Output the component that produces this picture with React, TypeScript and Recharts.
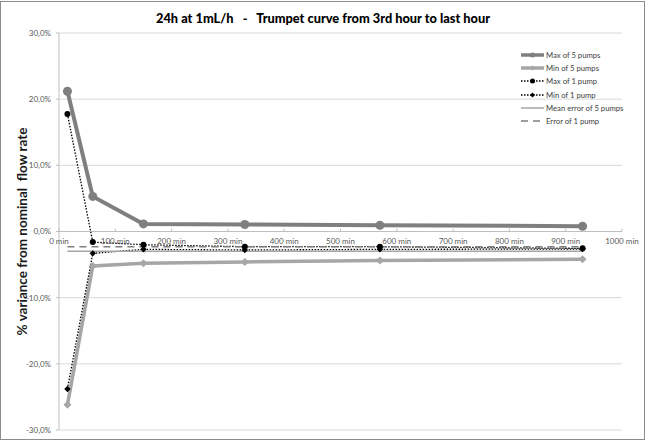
import { CartesianGrid, Legend, Line, LineChart, ReferenceDot, ReferenceLine, XAxis, YAxis } from 'recharts'

// minutes after the 3rd hour where each trumpet window was measured
const minutes = [15, 60, 150, 330, 570, 930]
const maxOf5Pumps = [21.2, 5.3, 1.15, 1.05, 0.95, 0.8]
const minOf5Pumps = [-26.2, -5.2, -4.8, -4.6, -4.4, -4.2]
const maxOf1Pump = [17.75, -1.6, -2.0, -2.3, -2.3, -2.55]
const minOf1Pump = [-23.8, -3.3, -2.7, -2.8, -2.7, -2.65]

const errorMinutes = [15, 930]
const meanErrorOf5Pumps = [-3.0, -3.0]
const errorOf1Pump = [-2.3, -2.3]

const yTicks = [-30, -20, -10, 0, 10, 20, 30]
const xTicks = [0, 100, 200, 300, 400, 500, 600, 700, 800, 900, 1000]

const DARK = '#7f7f7f'
const LIGHT = '#a6a6a6'
const FONT = 'Lato, "Liberation Sans", sans-serif'

const toPoints = (xs: number[], ys: number[]) => xs.map((x, i) => ({ x, y: ys[i] }))

const series = [
    { name: 'Max of 5 pumps', data: toPoints(minutes, maxOf5Pumps), color: DARK, width: 4, dash: undefined, marker: 'circle', size: 4.5 },
    { name: 'Min of 5 pumps', data: toPoints(minutes, minOf5Pumps), color: LIGHT, width: 3.5, dash: undefined, marker: 'diamond', size: 4 },
    { name: 'Max of 1 pump', data: toPoints(minutes, maxOf1Pump), color: '#000', width: 1.3, dash: '1.5 1.5', marker: 'circle', size: 3 },
    { name: 'Min of 1 pump', data: toPoints(minutes, minOf1Pump), color: '#000', width: 1.3, dash: '1.5 1.5', marker: 'diamond', size: 3.2 },
    { name: 'Mean error of 5 pumps', data: toPoints(errorMinutes, meanErrorOf5Pumps), color: LIGHT, width: 1.5, dash: undefined, marker: 'none', size: 0 },
    { name: 'Error of 1 pump', data: toPoints(errorMinutes, errorOf1Pump), color: DARK, width: 1.5, dash: '7 5', marker: 'none', size: 0 },
]

function Marker({ kind, cx, cy, size, color }: { kind: string; cx: number; cy: number; size: number; color: string }) {
    if (kind === 'circle') return <circle cx={cx} cy={cy} r={size} fill={color} />
    if (kind === 'diamond')
        return <polygon points={`${cx},${cy - size} ${cx + size},${cy} ${cx},${cy + size} ${cx - size},${cy}`} fill={color} />
    return null
}

function makeDot(kind: string, size: number, color: string) {
    if (kind === 'none') return false
    return (props: any) => {
        const { cx, cy, index } = props
        if (cx == null || cy == null) return <g key={index} />
        return <Marker key={index} kind={kind} cx={cx} cy={cy} size={size} color={color} />
    }
}

function LegendBox() {
    return (
        <div style={{ fontFamily: FONT, fontSize: 7.7, color: '#404040' }}>
            {series.map((s) => (
                <div key={s.name} style={{ display: 'flex', alignItems: 'center', height: 13.3 }}>
                    <svg width={23} height={10} style={{ marginRight: 2 }}>
                        <line x1={0} y1={5} x2={23} y2={5} stroke={s.color} strokeWidth={Math.min(s.width, 3.5)} strokeDasharray={s.dash} />
                        <Marker kind={s.marker} cx={11.5} cy={5} size={s.marker === 'none' ? 0 : 2.5} color={s.color} />
                    </svg>
                    <span style={{ whiteSpace: 'nowrap' }}>{s.name}</span>
                </div>
            ))}
        </div>
    )
}

function XTick(props: any) {
    const { cx, cy, value } = props
    return (
        <g>
            <line x1={cx} y1={cy - 3} x2={cx} y2={cy} stroke="#bfbfbf" />
            <text x={cx} y={cy + 12} textAnchor="middle" fontFamily={FONT} fontSize={8} fill="#595959">
                {value} min
            </text>
        </g>
    )
}

function YLabel(props: any) {
    const vb = props.viewBox
    const cy = vb.y + vb.height / 2
    return (
        <text
            x={22}
            y={cy}
            transform={`rotate(-90, 22, ${cy})`}
            textAnchor="middle"
            dominantBaseline="central"
            fontFamily={FONT}
            fontWeight="bold"
            fontSize={13.5}
            fill="#1a1a1a"
            style={{ whiteSpace: 'pre' }}
        >
            % variance from nominal  flow rate
        </text>
    )
}

export default function App() {
    return (
        <div style={{ position: 'absolute', left: 0, top: 0, width: 646, height: 440, background: '#fff' }}>
            <div style={{ position: 'absolute', left: 0, top: 1, width: 643, height: 437, border: '1px solid #8c8c8c' }} />
            <div
                style={{
                    position: 'absolute', left: 0, top: 9, width: 646, textAlign: 'center', whiteSpace: 'pre',
                    fontFamily: FONT, fontWeight: 900, fontSize: 12.8, lineHeight: '18px', color: '#000',
                }}
            >
                {'24h at 1mL/h   -   Trumpet curve from 3rd hour to last hour'}
            </div>
            <LineChart width={646} height={440} margin={{ top: 33, right: 24, bottom: 10, left: 0 }}>
                <CartesianGrid vertical={false} stroke="#d9d9d9" />
                <XAxis type="number" dataKey="x" domain={[0, 1000]} ticks={xTicks} hide allowDataOverflow />
                <YAxis
                    type="number"
                    dataKey="y"
                    domain={[-30, 30]}
                    ticks={yTicks}
                    width={59}
                    tickSize={3}
                    tickMargin={5}
                    tickFormatter={(v: number) => v.toFixed(1).replace('.', ',') + '%'}
                    tick={{ fontFamily: FONT, fontSize: 8, fill: '#595959' }}
                    axisLine={{ stroke: '#bfbfbf' }}
                    tickLine={{ stroke: '#bfbfbf' }}
                    label={{ content: YLabel }}
                />
                <ReferenceLine y={0} stroke="#bfbfbf" />
                {xTicks.map((t) => (
                    <ReferenceDot key={t} x={t} y={0} shape={(p: any) => <XTick {...p} value={t} />} />
                ))}
                {series.map((s) => (
                    <Line
                        key={s.name}
                        data={s.data}
                        dataKey="y"
                        name={s.name}
                        type="linear"
                        stroke={s.color}
                        strokeWidth={s.width}
                        strokeDasharray={s.dash}
                        dot={makeDot(s.marker, s.size, s.color)}
                        activeDot={false}
                        isAnimationActive={false}
                    />
                ))}
                <Legend
                    layout="vertical"
                    align="center"
                    verticalAlign="middle"
                    wrapperStyle={{ top: 48, left: 521, width: 124 }}
                    content={() => <LegendBox />}
                />
            </LineChart>
        </div>
    )
}
